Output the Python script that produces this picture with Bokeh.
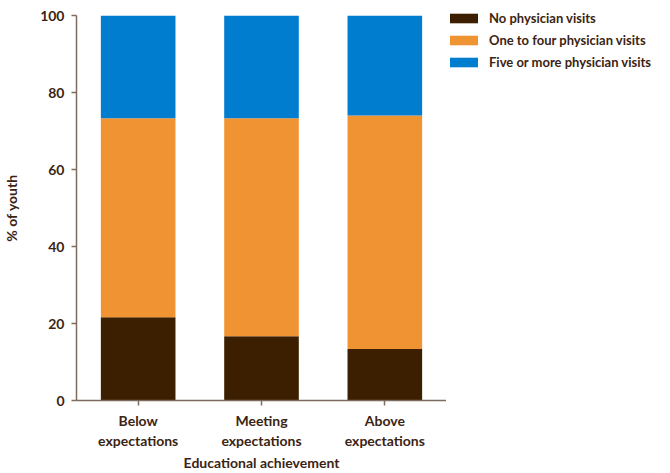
from bokeh.plotting import figure
from bokeh.models import FactorRange, Range1d, Legend, LegendItem
from bokeh.layouts import row, column
from bokeh.embed import file_html
from bokeh.resources import INLINE

categories = ["Below\nexpectations", "Meeting\nexpectations", "Above\nexpectations"]
no_visits = [21.6, 16.7, 13.4]
one_to_four = [51.7, 56.6, 60.6]
five_plus = [26.7, 26.7, 26.0]
series_names = ["No physician visits", "One to four physician visits", "Five or more physician visits"]
colors = ["#3B1F00", "#F09433", "#007DCF"]
yticks = [0, 20, 40, 60, 80, 100]

FONT = "Lato"
TXT = "#3B2413"
AX = "#7D6B5D"
H = 473

p = figure(x_range=FactorRange(*categories, range_padding=0), y_range=Range1d(0, 100),
           width=446, height=H, output_backend="svg", toolbar_location=None,
           min_border_left=73, min_border_right=0, min_border_top=15, min_border_bottom=0)
p.outline_line_color = None
p.grid.grid_line_color = None

data = dict(cat=categories, a=no_visits, b=one_to_four, c=five_plus)
rs = p.vbar_stack(["a", "b", "c"], x="cat", width=0.605, color=colors, line_color=None, source=data)

p.yaxis.ticker = yticks
p.yaxis.axis_label = "% of youth"
p.xaxis.axis_label = "Educational achievement"
for ax in (p.xaxis[0], p.yaxis[0]):
    ax.axis_line_color = AX
    ax.axis_line_width = 1.5
    ax.major_tick_line_color = AX
    ax.major_tick_line_width = 1.5
    ax.major_tick_out = 5
    ax.major_tick_in = 0
    ax.minor_tick_line_color = None
    ax.major_label_text_font = FONT
    ax.major_label_text_font_style = "bold"
    ax.major_label_text_font_size = "14px"
    ax.major_label_text_color = TXT
    ax.axis_label_text_font = FONT
    ax.axis_label_text_font_style = "bold"
    ax.axis_label_text_font_size = "14px"
    ax.axis_label_text_color = TXT
p.yaxis.major_label_standoff = 7
p.xaxis.major_label_standoff = 6
p.xaxis.axis_label_standoff = 2
p.yaxis.axis_label_standoff = 17

# legend panel: same series, renderers hidden, only legend shown
p2 = figure(x_range=FactorRange(*categories), y_range=Range1d(0, 100),
            width=224, height=H, output_backend="svg", toolbar_location=None,
            x_axis_type=None, y_axis_type=None,
            min_border_left=0, min_border_right=0, min_border_top=10, min_border_bottom=0)
p2.outline_line_color = None
p2.grid.grid_line_color = None
rs2 = p2.vbar_stack(["a", "b", "c"], x="cat", width=0.6, color=colors, line_color=None, source=data)
for r in rs2:
    r.visible = False
legend = Legend(items=[LegendItem(label=n, renderers=[r]) for n, r in zip(series_names, rs2)],
                location="top_left", glyph_width=35, glyph_height=12, label_height=12,
                label_standoff=8, spacing=6, padding=0, margin=0,
                border_line_color=None, background_fill_alpha=0, inactive_fill_alpha=0,
                label_text_font=FONT, label_text_font_style="bold", label_text_font_size="13px",
                label_text_color=TXT)
p2.add_layout(legend, "center")

layout = row(column(p, spacing=0), p2, spacing=0)
open("out.html", "w").write(file_html(layout, INLINE))
